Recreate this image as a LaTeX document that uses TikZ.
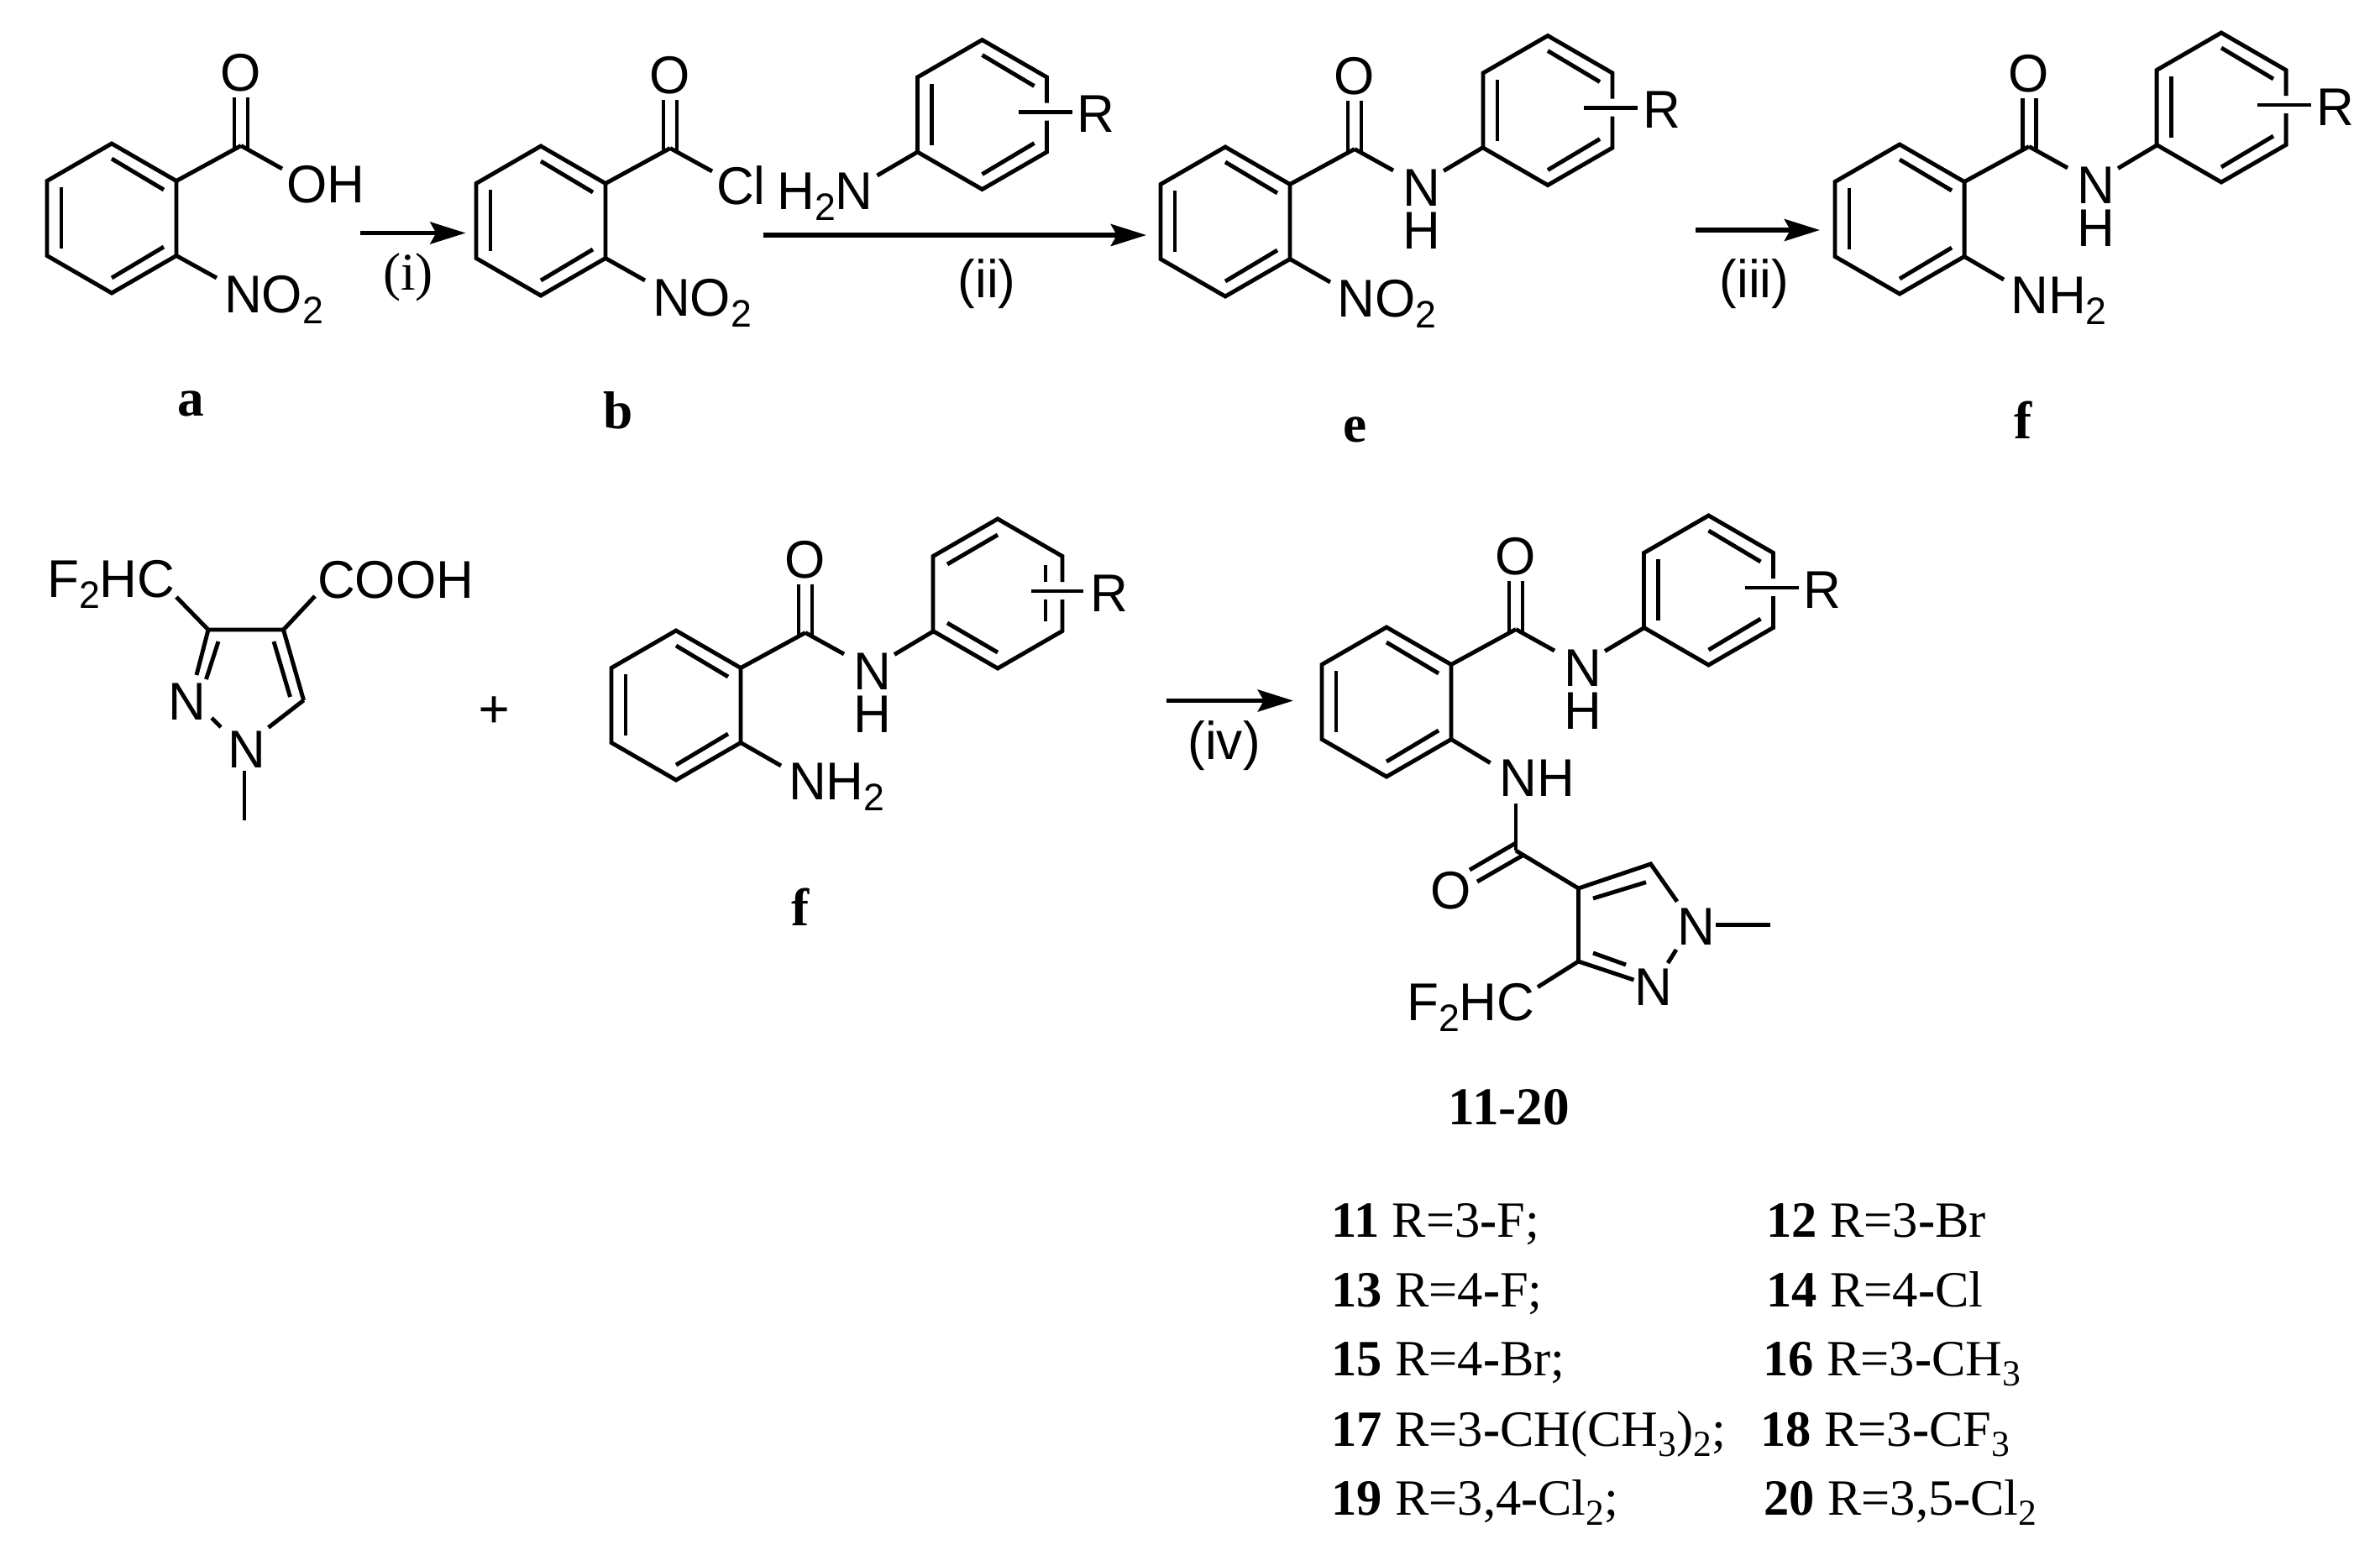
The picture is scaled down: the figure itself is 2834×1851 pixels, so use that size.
\documentclass[tikz,border=0pt]{standalone}
\usepackage{fontspec}
\setmainfont{Liberation Serif}
\newfontfamily\atomf[FakeStretch=0.98]{Liberation Sans}
\usetikzlibrary{arrows.meta}
\newcommand{\sbs}[1]{\raisebox{-0.21em}{\scalebox{0.72}{#1}}}
\newcommand{\tsb}[1]{\raisebox{-0.2em}{\scalebox{0.72}{#1}}}
\newcommand{\hy}{\textbf{-}}
\tikzset{
  bond/.style={line width=1.4pt,black,line join=miter},
  rxn/.style={line width=1.5pt,black,-{Stealth[length=12pt,width=7.4pt,inset=2pt]}},
  atom/.style={font=\atomf\fontsize{18}{18}\selectfont,inner sep=0pt,anchor=base west,xshift=-1pt},
  atomc/.style={atom,anchor=base,xshift=1pt},
  lab/.style={font=\bfseries\fontsize{18}{18}\selectfont,inner sep=0pt,anchor=base},
  cond/.style={font=\atomf\fontsize{18}{18}\selectfont,inner sep=0pt,anchor=base},
  conds/.style={font=\fontsize{18}{18}\selectfont,inner sep=0pt,anchor=base},
  tbl/.style={font=\fontsize{17.2}{17.2}\selectfont,inner sep=0pt,anchor=base west},
}
% ring vertices
\newcommand{\ringpts}[3]{%
  \coordinate (#1t) at (#2,#3-89);
  \coordinate (#1ur) at (#2+77,#3-44.5);
  \coordinate (#1lr) at (#2+77,#3+44.5);
  \coordinate (#1b) at (#2,#3+89);
  \coordinate (#1ll) at (#2-77,#3+44.5);
  \coordinate (#1ul) at (#2-77,#3-44.5);
}
% inner bonds on upper right, left, lower right
\newcommand{\innerA}[3]{%
  \draw[bond] (#2,#3-71) -- (#2+62,#3-34);
  \draw[bond] (#2-60,#3-37) -- (#2-60,#3+36);
  \draw[bond] (#2,#3+71) -- (#2+62,#3+34);
}
\newcommand{\plainring}[3]{%
  \ringpts{#1}{#2}{#3}
  \draw[bond] (#1t) -- (#1ur) -- (#1lr) -- (#1b) -- (#1ll) -- (#1ul) -- cycle;
  \innerA{#1}{#2}{#3}
}
% ring carrying the R substituent: right edge is broken by the R bond
\newcommand{\Rring}[3]{%
  \ringpts{#1}{#2}{#3}
  \coordinate (#1g) at (#2+77,#3-14);
  \coordinate (#1h) at (#2+77,#3+7);
  \draw[bond] (#1g) -- (#1ur) -- (#1t) -- (#1ul) -- (#1ll) -- (#1b) -- (#1lr) -- (#1h);
  \innerA{#1}{#2}{#3}
  \coordinate (#1ra) at (#2+43,#3-3);
  \coordinate (#1rb) at (#2+107,#3-3);
  \draw[bond] (#1ra) -- (#1rb);
  \node[atom] (#1R) at (#2+116,#3+21) {R};
}
% ring with inner bonds on upper left, lower left, right
\newcommand{\RringB}[3]{%
  \ringpts{#1}{#2}{#3}
  \coordinate (#1g) at (#2+77,#3-14);
  \coordinate (#1h) at (#2+77,#3+7);
  \draw[bond] (#1g) -- (#1ur) -- (#1t) -- (#1ul) -- (#1ll) -- (#1b) -- (#1lr) -- (#1h);
  \draw[bond] (#2,#3-70) -- (#2-60,#3-35);
  \draw[bond] (#2,#3+70) -- (#2-60,#3+35);
  \draw[bond] (#2+57,#3-34) -- (#2+57,#3-14);
  \draw[bond] (#2+57,#3+7) -- (#2+57,#3+33);
  \coordinate (#1ra) at (#2+40,#3-3);
  \coordinate (#1rb) at (#2+102,#3-3);
  \draw[bond] (#1ra) -- (#1rb);
  \node[atom] (#1R) at (#2+113,#3+21) {R};
}
% carbonyl on upper right of the ring at (cx,cy)
\newcommand{\carbonyl}[3]{%
  \coordinate (#1C) at (#2+154,#3-86.5);
  \node[atomc] (#1O) at (#2+154,#3-152) {O};
  \draw[bond] (#2+146,#3-144) -- (#2+146,#3-84);
  \draw[bond] (#2+162,#3-144) -- (#2+162,#3-84);
  \draw[bond] (#2+77,#3-44.5) -- (#1C);
}
% N-H link from carbonyl to second ring
\newcommand{\amideNH}[3]{%
  \node[atom] (#1N) at (#2+214,#3-19) {N};
  \node[atom] (#1H) at (#2+214,#3+32) {H};
  \coordinate (#1n1) at (#2+200,#3-61);
  \coordinate (#1n2) at (#2+260,#3-60.5);
  \draw[bond] (#1C) -- (#1n1);
  \draw[bond] (#1n2) -- (#2+307,#3-88.5);
}
\begin{document}
\begin{tikzpicture}[x=0.01cm,y=-0.01cm]
\useasboundingbox (0,0) rectangle (2834,1851);

% ---------- a
\plainring{a}{133}{260}
\carbonyl{a}{133}{260}
\node[atom] (aOH) at (344,241) {OH};
\coordinate (aoh) at (336,201);
\draw[bond] (aC) -- (aoh);
\node[atom] (aNO) at (270,372) {NO\sbs{2}};
\coordinate (ano) at (258,331);
\draw[bond] (alr) -- (ano);
\node[lab] (la) at (227,495) {a};

% ---------- arrow i
\coordinate (i1) at (429,277.5); \coordinate (i2) at (554.5,277.5);
\draw[rxn] (i1) -- (i2);
\node[conds] (ci) at (486,345) {(i)};

% ---------- b
\plainring{b}{644}{263}
\carbonyl{b}{644}{263}
\node[atom] (bCl) at (856,243) {Cl};
\coordinate (bcl) at (848,204);
\draw[bond] (bC) -- (bcl);
\node[atom] (bNO) at (780,376) {NO\sbs{2}};
\coordinate (bno) at (768,334);
\draw[bond] (blr) -- (bno);
\node[lab] (lb) at (736,510) {b};

% ---------- aniline
\Rring{c}{1169.5}{136.5}
\node[atom] (cN) at (928,249) {H\sbs{2}N};
\coordinate (cn) at (1044.5,209);
\draw[bond] (cll) -- (cn);

% ---------- arrow ii
\coordinate (ii1) at (909,280); \coordinate (ii2) at (1365,280);
\draw[rxn] (ii1) -- (ii2);
\node[cond] (cii) at (1175,354) {(ii)};

% ---------- e
\plainring{e}{1459}{264}
\carbonyl{e}{1459}{264}
\amideNH{e}{1459}{264}
\Rring{er}{1843}{131.5}
\node[atom] (eNO) at (1595,377) {NO\sbs{2}};
\coordinate (eno) at (1584,336);
\draw[bond] (elr) -- (eno);
\node[lab] (le) at (1614,526) {e};

% ---------- arrow iii
\coordinate (iii1) at (2019,274); \coordinate (iii2) at (2167,274);
\draw[rxn] (iii1) -- (iii2);
\node[cond] (ciii) at (2089,354) {(iii)};

% ---------- f top
\plainring{f}{2262}{261}
\carbonyl{f}{2262}{261}
\amideNH{f}{2262}{261}
\Rring{fr}{2645}{128}
\node[atom] (fNH) at (2397,373) {NH\sbs{2}};
\coordinate (fn) at (2386,333);
\draw[bond] (flr) -- (fn);
\node[lab] (lf) at (2409,522) {f};

% ---------- pyrazole acid
\coordinate (p3) at (248,750);
\coordinate (p4) at (337.5,750);
\coordinate (p5) at (361.6,834);
\node[atom] (pF) at (59,711) {F\sbs{2}HC};
\node[atom] (pA) at (381,712) {COOH};
\node[atom] (pN2) at (203,857) {N};
\node[atom] (pN1) at (274,914) {N};
\coordinate (pf) at (210,711);
\coordinate (pa) at (375,710);
\draw[bond] (pf) -- (p3);
\draw[bond] (pa) -- (p4);
\draw[bond] (p3) -- (p4) -- (p5);
\draw[bond] (p3) -- (234,804);
\draw[bond] (260,764) -- (245.5,809);
\draw[bond] (326,764) -- (345.5,830);
\draw[bond] (p5) -- (319.6,866.5);
\draw[bond] (252,855) -- (263,866);
\coordinate (pm1) at (291,918); \coordinate (pm2) at (291,977);
\draw[bond] (pm1) -- (pm2);
\node[font=\bfseries\fontsize{19}{19}\selectfont,inner sep=0pt] (plus) at (589,849) {+};

% ---------- f lower
\plainring{g}{805}{840}
\carbonyl{g}{805}{840}
\amideNH{g}{805}{840}
\RringB{gr}{1188}{707}
\node[atom] (gNH) at (942,952.5) {NH\sbs{2}};
\coordinate (gn) at (930,912);
\draw[bond] (glr) -- (gn);
\node[lab] (lg) at (953,1102) {f};

% ---------- arrow iv
\coordinate (iv1) at (1389,834.5); \coordinate (iv2) at (1540,834.5);
\draw[rxn] (iv1) -- (iv2);
\node[cond] (civ) at (1457.6,904) {(iv)};

% ---------- product
\plainring{h}{1651}{836}
\carbonyl{h}{1651}{836}
\amideNH{h}{1651}{836}
\Rring{hr}{2034.5}{703}
\node[atom] (hNH) at (1788,948) {NH};
\coordinate (hn1) at (1774.5,908.6);
\draw[bond] (hlr) -- (hn1);
\coordinate (hn2) at (1805,956.5);
\coordinate (hk) at (1805,1013);
\draw[bond] (hn2) -- (hk);
\node[atomc] (hO2) at (1727.5,1082) {O};
\draw[bond] (1805,1004) -- (1750,1036);
\draw[bond] (1813.5,1018.6) -- (1759,1050);
\coordinate (q4) at (1879.5,1058);
\coordinate (q5) at (1965.6,1029);
\coordinate (q3) at (1879.5,1145);
\draw[bond] (hk) -- (q4);
\draw[bond] (q3) -- (q4) -- (q5) -- (1997,1073.7);
\draw[bond] (1897,1070) -- (1960,1050.7);
\node[atom] (qN1) at (2000,1125) {N};
\node[atom] (qN2) at (1949.6,1197) {N};
\coordinate (qm1) at (2043,1101.4); \coordinate (qm2) at (2108,1101.4);
\draw[bond] (qm1) -- (qm2);
\draw[bond] (1996,1131) -- (1986,1147);
\draw[bond] (q3) -- (1945.5,1167);
\draw[bond] (1897,1135) -- (1936,1149);
\coordinate (qf) at (1831,1175.6);
\draw[bond] (q3) -- (qf);
\node[atom] (qF) at (1678,1215) {F\sbs{2}HC};
\node[lab] (lh) at (1797,1339) {11-20};

% ---------- table
\node[tbl] (t11) at (1585,1473) {\textbf{11} R=3\hy F;};
\node[tbl] (t12) at (2103,1473) {\textbf{12} R=3\hy Br};
\node[tbl] (t13) at (1585,1556) {\textbf{13} R=4\hy F;};
\node[tbl] (t14) at (2103,1556) {\textbf{14} R=4\hy Cl};
\node[tbl] (t15) at (1585,1638) {\textbf{15} R=4\hy Br;};
\node[tbl] (t16) at (2099,1638) {\textbf{16} R=3\hy CH\tsb{3}};
\node[tbl] (t17) at (1585,1722) {\textbf{17} R=3\hy CH(CH\tsb{3})\tsb{2};};
\node[tbl] (t18) at (2096,1722) {\textbf{18} R=3\hy CF\tsb{3}};
\node[tbl] (t19) at (1585,1804) {\textbf{19} R=3,4\hy Cl\tsb{2};};
\node[tbl] (t20) at (2100,1804) {\textbf{20} R=3,5\hy Cl\tsb{2}};
\end{tikzpicture}
\end{document}
